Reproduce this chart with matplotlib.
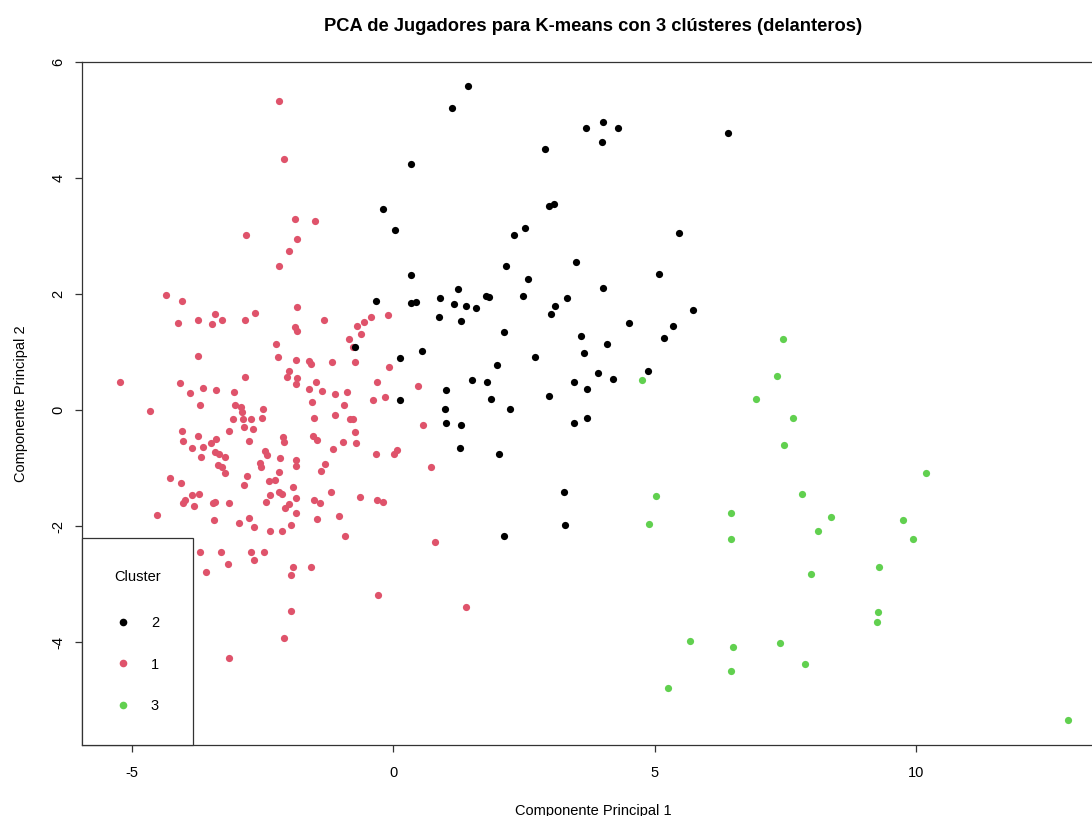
import matplotlib
matplotlib.use("Agg")
import matplotlib.pyplot as plt
from matplotlib.lines import Line2D

# cluster 1 (red)
red_x = [-2.19, -2.09, -1.89, -1.50, -2.82, -1.84, -1.99, -2.18, -4.34, -4.04,
         -1.84, -3.42, -3.74, -3.27, -4.11, -3.46, -2.84, -2.64, -1.32, -0.10,
         -0.43, -0.57, -0.69, -0.61, -1.89, -1.84, -2.24, -0.85, -0.78, -3.74,
         -2.21, -1.87, -1.61, -1.57, -1.17, -0.74, -0.09, -2.00, -2.04, -1.84,
         -1.86, -2.84, -1.48, -0.31, -5.23, -4.09, -3.89, -3.65, -3.40, -3.04,
         -1.61, -1.37, -1.12, -0.88, -0.39, -0.16, -1.56, -0.94, -3.69, -3.02,
         -2.91, -2.89, -2.49, -4.65, -3.07, -2.87, -2.73, -2.51, -1.51, -1.12,
         -0.83, -0.77, -2.86, -2.69, -3.14, -4.04, -3.74, -0.74, -2.12, -2.10,
         -1.54, -1.46, -2.76, -3.40, -3.49, -4.02, -3.64, -3.85, -0.96, -0.72,
         -1.15, -2.46, -2.42, -3.42, -3.33, -3.22, -3.67, -0.33, 0.01, 0.08,
         -2.17, -1.87, -1.87, -2.56, -2.53, -3.35, -3.27, -3.22, -1.30, -1.39,
         -2.19, -2.80, -4.27, -4.07, -2.37, -2.26, -2.86, -1.92, -1.19, -2.19,
         -2.13, -2.35, -3.72, -3.85, -3.99, -4.03, -3.81, -3.45, -3.42, -3.14,
         -2.44, -1.86, -2.00, -2.07, -1.87, -1.51, -1.41, -0.63, -0.31, -0.19,
         -4.52, -3.44, -2.95, -2.76, -2.67, -2.35, -2.13, -1.96, -1.46, -1.03,
         -0.92, -3.69, -3.29, -2.73, -2.48, -3.17, -2.66, -3.58, -1.92, -1.57,
         -1.95, -0.29, -1.95, -2.10, -3.14, 0.48, 0.57, 0.73, 0.80, 1.40]
red_y = [5.32, 4.32, 3.29, 3.26, 3.02, 2.94, 2.75, 2.49, 1.99, 1.88,
         1.78, 1.65, 1.56, 1.56, 1.50, 1.48, 1.55, 1.67, 1.55, 1.63,
         1.60, 1.52, 1.45, 1.31, 1.43, 1.37, 1.14, 1.22, 1.09, 0.93,
         0.91, 0.87, 0.85, 0.79, 0.83, 0.82, 0.75, 0.67, 0.57, 0.56,
         0.45, 0.57, 0.48, 0.49, 0.48, 0.46, 0.29, 0.38, 0.34, 0.31,
         0.36, 0.33, 0.28, 0.31, 0.18, 0.22, 0.13, 0.08, 0.08, 0.08,
         0.05, -0.04, 0.02, -0.01, -0.16, -0.16, -0.16, -0.14, -0.14, -0.09,
         -0.16, -0.16, -0.29, -0.32, -0.36, -0.37, -0.44, -0.38, -0.47, -0.56,
         -0.45, -0.52, -0.53, -0.50, -0.57, -0.53, -0.63, -0.66, -0.55, -0.57,
         -0.68, -0.71, -0.78, -0.72, -0.76, -0.81, -0.81, -0.75, -0.76, -0.69,
         -0.82, -0.86, -0.96, -0.91, -0.99, -0.94, -0.98, -1.09, -0.93, -1.06,
         -1.07, -1.14, -1.17, -1.25, -1.22, -1.21, -1.30, -1.33, -1.41, -1.41,
         -1.45, -1.47, -1.45, -1.47, -1.55, -1.60, -1.66, -1.61, -1.59, -1.61,
         -1.58, -1.51, -1.62, -1.69, -1.78, -1.56, -1.61, -1.50, -1.56, -1.58,
         -1.81, -1.90, -1.94, -1.87, -2.01, -2.09, -2.09, -1.99, -1.88, -1.82,
         -2.17, -2.45, -2.44, -2.45, -2.44, -2.66, -2.59, -2.80, -2.70, -2.70,
         -2.85, -3.19, -3.47, -3.93, -4.28, 0.41, -0.26, -0.99, -2.28, -3.39]

# cluster 2 (black)
black_x = [1.43, 1.13, 3.68, 4.01, 4.30, 3.99, 6.40, 2.90, 0.33, -0.20,
           0.04, 2.97, 3.08, 2.51, 2.30, 5.47, 3.50, 2.16, 0.33, 2.58,
           5.08, -0.33, 1.24, 4.01, 0.89, 1.77, 1.84, 2.48, 3.32, 0.33,
           0.43, 1.17, 1.40, 1.58, 3.10, 3.01, 0.87, 1.29, 5.73, 4.50,
           5.35, 2.12, 3.60, 5.17, 4.09, 0.55, 0.13, 2.72, 3.64, 1.98,
           4.87, 3.92, 4.21, 1.51, 1.80, 3.46, 1.00, 3.70, 1.87, 0.13,
           2.98, 0.98, 2.23, 1.00, 1.29, 3.46, 3.70, 1.28, 2.02, 3.27,
           3.28, 2.12, -0.73]
black_y = [5.58, 5.20, 4.87, 4.97, 4.86, 4.62, 4.78, 4.50, 4.24, 3.46,
           3.10, 3.51, 3.55, 3.14, 3.02, 3.06, 2.56, 2.48, 2.32, 2.26,
           2.35, 1.88, 2.09, 2.10, 1.93, 1.97, 1.95, 1.96, 1.93, 1.84,
           1.87, 1.83, 1.79, 1.76, 1.79, 1.65, 1.60, 1.53, 1.73, 1.50,
           1.44, 1.34, 1.27, 1.25, 1.13, 1.01, 0.90, 0.91, 0.98, 0.77,
           0.67, 0.64, 0.54, 0.51, 0.49, 0.49, 0.34, 0.37, 0.19, 0.17,
           0.24, 0.02, 0.02, -0.23, -0.26, -0.23, -0.13, -0.65, -0.76, -1.42,
           -1.99, -2.17, 1.09]

# cluster 3 (green)
green_x = [4.76, 5.02, 6.46, 4.89, 6.46, 5.68, 6.49, 6.47, 5.26, 8.12,
           9.95, 9.76, 8.37, 7.99, 9.30, 9.28, 9.26, 7.40, 7.88, 12.90,
           7.45, 7.34, 6.94, 7.65, 7.47, 10.19, 7.81]
green_y = [0.52, -1.48, -1.78, -1.97, -2.23, -3.98, -4.09, -4.50, -4.79, -2.09,
           -2.23, -1.90, -1.84, -2.83, -2.70, -3.49, -3.65, -4.01, -4.38, -5.34,
           1.22, 0.59, 0.19, -0.13, -0.60, -1.09, -1.45]

colors = {"1": "#DF536B", "2": "#000000", "3": "#61D04F"}
legend_order = ["2", "1", "3"]

plt.rcParams["font.family"] = ["Liberation Sans", "DejaVu Sans"]
plt.rcParams["axes.unicode_minus"] = False

fig = plt.figure(figsize=(10.92, 8.16), dpi=100)
ax = fig.add_axes([82 / 1092, 70.7 / 816, 1023 / 1092, 683.3 / 816])

ax.scatter(red_x, red_y, s=27, color=colors["1"], linewidths=0)
ax.scatter(black_x, black_y, s=27, color=colors["2"], linewidths=0)
ax.scatter(green_x, green_y, s=27, color=colors["3"], linewidths=0)

ax.set_xlim(-5.956, 13.616)
ax.set_ylim(-5.781, 6.0)
ax.set_xticks([-5, 0, 5, 10])
ax.set_yticks([-4, -2, 0, 2, 4, 6])
ax.set_yticklabels(["-4", "-2", "0", "2", "4", "6"], rotation=90, va="center")
ax.tick_params(direction="out", length=5, width=0.9, labelsize=10.5, color="#333333")
ax.tick_params(axis="x", pad=10)
ax.tick_params(axis="y", pad=7)
for side in ["left", "bottom", "top"]:
    ax.spines[side].set_color("#333333")
    ax.spines[side].set_linewidth(0.9)
ax.spines["right"].set_visible(False)

ax.set_title("PCA de Jugadores para K-means con 3 clústeres (delanteros)",
             fontsize=13.2, fontweight="bold", pad=22)
ax.set_xlabel("Componente Principal 1", fontsize=10.5, labelpad=17)
ax.set_ylabel("Componente Principal 2", fontsize=10.5, labelpad=17)

handles = [Line2D([], [], marker="o", linestyle="none", markersize=5.5,
                  markerfacecolor=colors[k], markeredgewidth=0) for k in legend_order]
leg = ax.legend(handles, legend_order, title="Cluster", loc="lower left",
                bbox_to_anchor=(0, 0), borderaxespad=0, fontsize=10.5,
                title_fontsize=10.5, fancybox=False, framealpha=1,
                edgecolor="#333333", borderpad=2.2, labelspacing=1.9,
                handletextpad=1.4, handlelength=1.0)
leg.get_frame().set_linewidth(0.9)
# a bit more room between the legend title and the entries
leg._legend_box.sep += 3

fig.savefig("out.png", dpi=100)
